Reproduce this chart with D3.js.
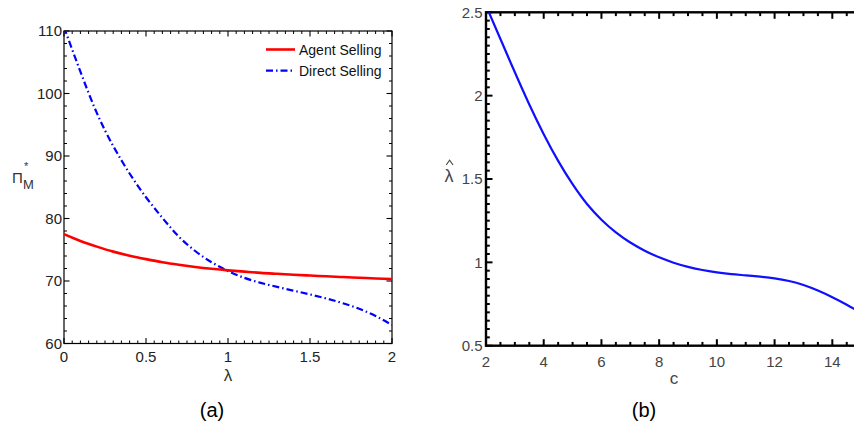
<!DOCTYPE html>
<html><head><meta charset="utf-8">
<script src="https://cdn.jsdelivr.net/npm/d3@7"></script>
<style>
html,body{margin:0;padding:0;background:#fff;}
svg{display:block;}
text{font-family:"Liberation Sans",Arial,sans-serif;}
</style></head>
<body>
<svg id="chart" width="854" height="430"></svg>
<script>
// ---------- Panel (a) data ----------
const lambdaVals = [0,0.1,0.2,0.3,0.4,0.5,0.6,0.7,0.8,0.9,1.0,1.1,1.2,1.3,1.4,1.5,1.6,1.7,1.8,1.9,2.0];
const agentSelling = [77.5,76.4,75.5,74.7,74.05,73.5,73.0,72.6,72.25,71.95,71.7,71.5,71.3,71.15,71.0,70.87,70.75,70.63,70.52,70.41,70.3];
const directSelling = [110.6,103.5,96.9,91.6,87.2,83.4,80.1,77.1,74.8,73.0,71.6,70.5,69.7,69.05,68.45,67.85,67.2,66.45,65.55,64.4,62.95];
const xTicksA = [0,0.5,1,1.5,2];
const xTickLabelsA = ["0","0.5","1","1.5","2"];
const yTicksA = [60,70,80,90,100,110];
const legendNames = ["Agent Selling","Direct Selling"];

// ---------- Panel (b) data ----------
const cVals = [2.1,2.5,3,3.5,4,4.5,5,5.5,6,6.5,7,7.5,8,8.5,9,9.5,10,10.5,11,11.5,12,12.5,13,13.5,14,14.5,15];
const lambdaHat = [2.50,2.34,2.14,1.947,1.769,1.609,1.469,1.35,1.256,1.18,1.119,1.07,1.03,0.998,0.973,0.954,0.94,0.929,0.922,0.914,0.904,0.888,0.864,0.831,0.791,0.746,0.696];
const xTicksB = [2,4,6,8,10,12,14];
const yTicksB = [0.5,1,1.5,2,2.5];
const yTickLabelsB = ["0.5","1","1.5","2","2.5"];

const svg = d3.select("#chart");
function range(a,b,s){const r=[];for(let v=a;v<=b+1e-9;v+=s)r.push(+v.toFixed(4));return r;}
function notIn(arr, major){return arr.filter(v=>!major.some(t=>Math.abs(t-v)<1e-6));}

// inward ticks along a frame side
function ticks(g, scale, values, side, pos, len, w){
  g.append("g").selectAll("line").data(values).join("line")
    .attr("x1", d => side==="h" ? scale(d) : pos)
    .attr("x2", d => side==="h" ? scale(d) : pos + len)
    .attr("y1", d => side==="h" ? pos : scale(d))
    .attr("y2", d => side==="h" ? pos + len : scale(d))
    .attr("stroke","#000").attr("stroke-width",w);
}
function labels(g, scale, values, texts, side, pos, opts){
  g.append("g").selectAll("text").data(values).join("text")
    .attr("x", d => side==="h" ? scale(d) : pos)
    .attr("y", d => side==="h" ? pos : scale(d))
    .attr("text-anchor", side==="h" ? "middle" : "end")
    .attr("dy", side==="h" ? "0" : "0.36em")
    .attr("font-size", opts.size).attr("fill", opts.color)
    .text((d,i)=>texts[i]);
}

// ================= Panel (a) =================
const A = {l:64,r:392,t:31,b:343.5};
const xA = d3.scaleLinear().domain([0,2]).range([A.l,A.r]);
const yA = d3.scaleLinear().domain([60,110]).range([A.b,A.t]);
const gA = svg.append("g");
const minorXA = notIn(range(0,2,0.05), xTicksA);
const minorYA = notIn(range(60,110,2), yTicksA);

gA.append("rect").attr("x",A.l).attr("y",A.t).attr("width",A.r-A.l).attr("height",A.b-A.t)
  .attr("fill","none").attr("stroke","#000").attr("stroke-width",1.2);
ticks(gA, xA, xTicksA, "h", A.b, -5.5, 1.1);
ticks(gA, xA, minorXA, "h", A.b, -3, 1);
ticks(gA, xA, xTicksA, "h", A.t, 5.5, 1.1);
ticks(gA, xA, minorXA, "h", A.t, 3, 1);
ticks(gA, yA, yTicksA, "v", A.l, 5.5, 1.1);
ticks(gA, yA, minorYA, "v", A.l, 3, 1);
ticks(gA, yA, yTicksA, "v", A.r, -5.5, 1.1);
ticks(gA, yA, minorYA, "v", A.r, -3, 1);
labels(gA, xA, xTicksA, xTickLabelsA, "h", 361.5, {size:15,color:"#222"});
labels(gA, yA, yTicksA, yTicksA.map(String), "v", 62, {size:15,color:"#222"});

svg.append("clipPath").attr("id","clipA").append("rect").attr("x",A.l).attr("y",A.t).attr("width",A.r-A.l).attr("height",A.b-A.t);
const lineA = d3.line().x((d,i)=>xA(lambdaVals[i])).y(d=>yA(d)).curve(d3.curveNatural);
const dashDot = "7,3,1.5,3";
gA.append("path").attr("clip-path","url(#clipA)").attr("d",lineA(directSelling))
  .attr("fill","none").attr("stroke","#0000ff").attr("stroke-width",2.2).attr("stroke-dasharray",dashDot);
gA.append("path").attr("clip-path","url(#clipA)").attr("d",lineA(agentSelling))
  .attr("fill","none").attr("stroke","#ff0000").attr("stroke-width",2.6);

// legend
const leg = gA.append("g");
const legY = [49.5, 70.7];
leg.append("line").attr("x1",266).attr("x2",295).attr("y1",legY[0]).attr("y2",legY[0]).attr("stroke","#ff0000").attr("stroke-width",2.6);
leg.append("line").attr("x1",266).attr("x2",295).attr("y1",legY[1]).attr("y2",legY[1]).attr("stroke","#0000ff").attr("stroke-width",2.2).attr("stroke-dasharray",dashDot);
legendNames.forEach((n,i)=>leg.append("text").attr("x",299).attr("y",legY[i]+5).attr("font-size",14).attr("fill","#111").text(n));

// axis labels
gA.append("text").attr("x",228).attr("y",381).attr("text-anchor","middle").attr("font-size",17).attr("fill","#333").text("λ");
gA.append("text").attr("x",12).attr("y",183).attr("font-size",15).attr("fill","#333").text("Π");
gA.append("text").attr("x",24).attr("y",170).attr("font-size",11).attr("fill","#333").text("*");
gA.append("text").attr("x",23).attr("y",189).attr("font-size",13).attr("fill","#333").text("M");
gA.append("text").attr("x",212).attr("y",417).attr("text-anchor","middle").attr("font-size",20)
  .attr("font-family","Liberation Serif, 'DejaVu Serif', serif").attr("fill","#000").text("(a)");

// ================= Panel (b) =================
const B = {l:486,t:12.3,b:345.7};
const xB = d3.scaleLinear().domain([2,15]).range([B.l, B.l+13*28.86]);
const yB = d3.scaleLinear().domain([0.5,2.5]).range([B.b,B.t]);
B.r = xB(15);
const gB = svg.append("g");
const minorXB = notIn(range(2,15,0.5), xTicksB);
const minorYB = notIn(range(0.5,2.5,0.05), yTicksB);

gB.append("rect").attr("x",B.l).attr("y",B.t).attr("width",B.r-B.l).attr("height",B.b-B.t)
  .attr("fill","none").attr("stroke","#000").attr("stroke-width",2.4);
ticks(gB, xB, xTicksB, "h", B.b, -6.5, 2);
ticks(gB, xB, minorXB, "h", B.b, -3.8, 2);
ticks(gB, xB, xTicksB, "h", B.t, 6.5, 2);
ticks(gB, xB, minorXB, "h", B.t, 3.8, 2);
ticks(gB, yB, yTicksB, "v", B.l, 6.5, 2);
ticks(gB, yB, minorYB, "v", B.l, 3.8, 2);
labels(gB, xB, xTicksB, xTicksB.map(String), "h", 367, {size:15,color:"#444"});
labels(gB, yB, yTicksB, yTickLabelsB, "v", 482.5, {size:15,color:"#444"});

svg.append("clipPath").attr("id","clipB").append("rect").attr("x",B.l).attr("y",B.t).attr("width",B.r-B.l).attr("height",B.b-B.t);
const lineB = d3.line().x((d,i)=>xB(cVals[i])).y(d=>yB(d)).curve(d3.curveNatural);
gB.append("path").attr("clip-path","url(#clipB)").attr("d",lineB(lambdaHat))
  .attr("fill","none").attr("stroke","#1010ff").attr("stroke-width",2.2);

gB.append("text").attr("x",674).attr("y",384).attr("text-anchor","middle").attr("font-size",17).attr("fill","#444").text("c");
gB.append("text").attr("x",449).attr("y",182).attr("text-anchor","middle").attr("font-size",18).attr("fill","#444").text("λ");
// circumflex accent over λ
gB.append("path").attr("d","M446.2,165 L449.6,160.2 L453,165").attr("fill","none").attr("stroke","#444").attr("stroke-width",1.1);
gB.append("text").attr("x",644).attr("y",417).attr("text-anchor","middle").attr("font-size",20)
  .attr("font-family","Liberation Serif, 'DejaVu Serif', serif").attr("fill","#000").text("(b)");
</script>
</body></html>
